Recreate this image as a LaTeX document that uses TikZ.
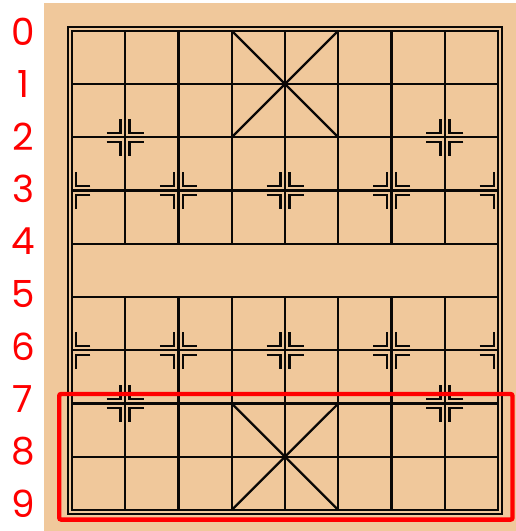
\documentclass[tikz,border=0pt]{standalone}
\usepackage{fontspec}
\usepackage{tikz}
\newfontfamily\digitfont{Poppins}
\definecolor{board}{HTML}{F0C89B}
\definecolor{hilite}{HTML}{FF0000}
\definecolor{ink}{HTML}{0A0806}
\newcommand{\gx}[1]{71.8+53.3*(#1)}
\newcommand{\gy}[1]{30.8+53.25*(#1)}
% one L-shaped corner of a point mark: column, row, x side, y side
\newcommand{\cornerL}[4]{\draw[pointmark] ({\gx{#1}+(#3)*18.5},{\gy{#2}+(#4)*4.5}) -- ({\gx{#1}+(#3)*4.5},{\gy{#2}+(#4)*4.5}) -- ({\gx{#1}+(#3)*4.5},{\gy{#2}+(#4)*18.5});}
\tikzset{
  gridline/.style={ink,line width=1.7pt},
  pointmark/.style={ink,line width=1.7pt},
  rowlabel/.style={text=hilite,font=\digitfont\fontsize{28}{28}\selectfont,inner sep=0pt},
  hilitebox/.style={draw=hilite,line width=3.3pt,rounded corners=1.5pt}
}
\begin{document}
\begin{tikzpicture}[x=0.75pt,y=-0.75pt]
\useasboundingbox (0,0) rectangle (516,531);
\fill[board] (44,3) rectangle (516,531);
% frame
\draw[ink,line width=1.2pt] (68.2,27.2) rectangle (502,513.8);
\draw[gridline] ({\gx{0}},{\gy{0}}) rectangle ({\gx{8}},{\gy{9}});
% ranks and files, river left open
\foreach \r in {1,...,8} \draw[gridline] ({\gx{0}},{\gy{\r}}) -- ({\gx{8}},{\gy{\r}});
\foreach \c in {1,...,7} {\draw[gridline] ({\gx{\c}},{\gy{0}}) -- ({\gx{\c}},{\gy{4}});\draw[gridline] ({\gx{\c}},{\gy{5}}) -- ({\gx{\c}},{\gy{9}});}
% palaces
\draw[gridline] ({\gx{3}},{\gy{0}}) -- ({\gx{5}},{\gy{2}}) ({\gx{5}},{\gy{0}}) -- ({\gx{3}},{\gy{2}});
\draw[gridline] ({\gx{3}},{\gy{7}}) -- ({\gx{5}},{\gy{9}}) ({\gx{5}},{\gy{7}}) -- ({\gx{3}},{\gy{9}});
% point marks
\foreach \c/\r in {1/2,7/2,1/7,7/7,2/3,4/3,6/3,2/6,4/6,6/6} {\foreach \sx in {-1,1} {\foreach \sy in {-1,1} {\cornerL{\c}{\r}{\sx}{\sy}}}}
\foreach \r in {3,6} {\foreach \sy in {-1,1} {\cornerL{0}{\r}{1}{\sy}\cornerL{8}{\r}{-1}{\sy}}}
% row numbers
\foreach \i in {0,...,9} \node[rowlabel] (row\i) at (23,{32+52.4*\i}) {\i};
\draw[hilitebox] (59.2,394) rectangle (512.5,519.6);
\end{tikzpicture}
\end{document}
